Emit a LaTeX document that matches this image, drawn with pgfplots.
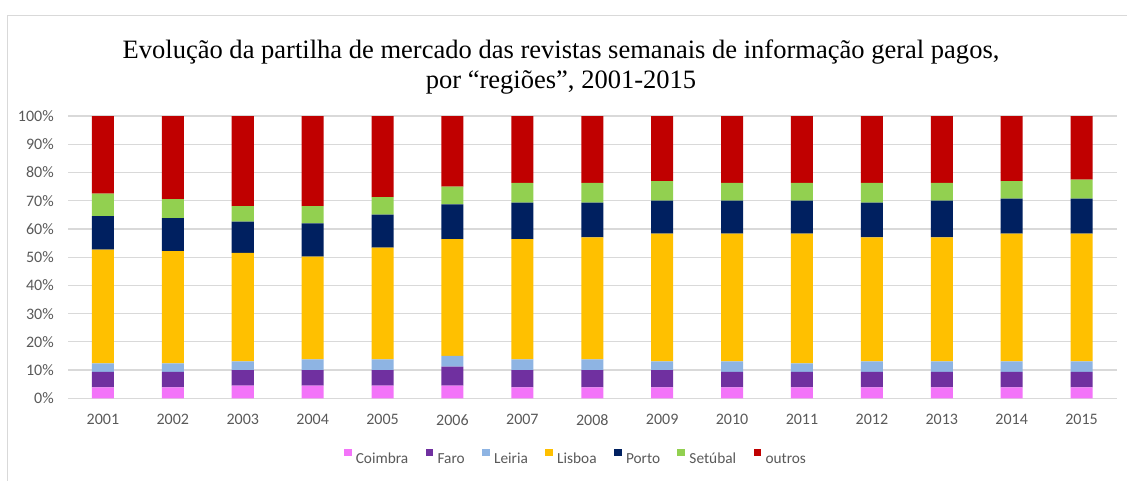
\documentclass[border=0pt]{standalone}
\usepackage{fontspec}
\setmainfont{Carlito}
\newfontfamily\titlefont{Liberation Serif}
\usepackage{pgfplots}
\usepackage{pgfplotstable}
\pgfplotsset{compat=1.18}
\definecolor{cCoimbra}{HTML}{F374F9}
\definecolor{cFaro}{HTML}{7030A0}
\definecolor{cLeiria}{HTML}{8EB4E3}
\definecolor{cLisboa}{HTML}{FFC000}
\definecolor{cPorto}{HTML}{002060}
\definecolor{cSetubal}{HTML}{92D050}
\definecolor{cOutros}{HTML}{C00000}
\definecolor{gridgray}{HTML}{D9D9D9}
\definecolor{labgray}{HTML}{595959}
\pgfplotstableread{
x  year Coimbra Faro Leiria Lisboa Porto Setubal Outros
0  2001 3.9 5.5 3.0 40.3 11.8 8.0 27.5
1  2002 3.9 5.5 3.0 39.7 11.7 6.8 29.4
2  2003 4.5 5.5 3.1 38.4 11.1 5.5 31.9
3  2004 4.5 5.5 3.8 36.4 11.8 6.1 31.9
4  2005 4.5 5.5 3.8 39.6 11.7 6.2 28.7
5  2006 4.5 6.7 3.8 41.4 12.3 6.3 25.0
6  2007 3.9 6.1 3.8 42.6 12.9 7.0 23.7
7  2008 3.9 6.1 3.8 43.2 12.3 7.0 23.7
8  2009 3.9 6.1 3.1 45.2 11.7 6.9 23.1
9  2010 3.9 5.5 3.7 45.2 11.7 6.3 23.7
10 2011 3.9 5.5 3.0 45.9 11.7 6.3 23.7
11 2012 3.9 5.5 3.7 43.9 12.3 7.0 23.7
12 2013 3.9 5.5 3.7 43.9 13.0 6.3 23.7
13 2014 3.9 5.5 3.7 45.2 12.4 6.2 23.1
14 2015 3.9 5.5 3.7 45.2 12.4 6.8 22.5
}\datatable
\begin{document}
\begin{tikzpicture}[x=0.75pt,y=0.75pt]
\path[use as bounding box] (0,0) rectangle (1127,480);
\draw[gridgray, line width=0.75pt] (7,-5) -- (7,465) -- (1135,465);
\node[font=\titlefont\fontsize{19.9}{24}\selectfont, anchor=base] at (561,421.7) {Evolução da partilha de mercado das revistas semanais de informação geral pagos,};
\node[font=\titlefont\fontsize{19.9}{24}\selectfont, anchor=base] at (561,392) {por “regiões”, 2001-2015};
\begin{axis}[
  at={(51pt,61.275pt)}, anchor=south west,
  scale only axis,
  width=786.4pt, height=211.7pt,
  ybar stacked, bar width=0.315,
  xmin=-0.5, xmax=14.5, ymin=0, ymax=100,
  xtick=data,
  xticklabels={2001,2002,2003,2004,2005,2006,2007,2008,2009,2010,2011,2012,2013,2014,2015},
  ytick={0,10,...,100},
  yticklabels={0\%,10\%,20\%,30\%,40\%,50\%,60\%,70\%,80\%,90\%,100\%},
  ymajorgrids, grid style={gridgray, line width=0.9pt},
  axis line style={draw=none},
  major tick length=0pt,
  tick label style={font=\fontsize{12}{14}\selectfont, text=labgray},
  yticklabel style={inner sep=0pt, xshift=-10.5pt},
  xticklabel style={inner sep=0pt, yshift=-12pt},
  legend style={draw=none, at={(0.4847,-0.2115)}, anchor=center, legend columns=-1,
    font=\fontsize{11.5}{13}\selectfont, text=labgray,
    /tikz/every odd column/.append style={column sep=1.2pt},
    /tikz/every even column/.append style={column sep=11pt}},
  legend image code/.code={\fill[#1] (0pt,1.2pt) rectangle (5.8pt,7.0pt);},
  legend cell align=left,
]
\addplot[fill=cCoimbra, draw=none] table[x=x,y=Coimbra]{\datatable};
\addplot[fill=cFaro, draw=none] table[x=x,y=Faro]{\datatable};
\addplot[fill=cLeiria, draw=none] table[x=x,y=Leiria]{\datatable};
\addplot[fill=cLisboa, draw=none] table[x=x,y=Lisboa]{\datatable};
\addplot[fill=cPorto, draw=none] table[x=x,y=Porto]{\datatable};
\addplot[fill=cSetubal, draw=none] table[x=x,y=Setubal]{\datatable};
\addplot[fill=cOutros, draw=none] table[x=x,y=Outros]{\datatable};
\legend{\strut Coimbra,\strut Faro,\strut Leiria,\strut Lisboa,\strut Porto,\strut Setúbal,\strut outros}
\end{axis}
\end{tikzpicture}
\end{document}
